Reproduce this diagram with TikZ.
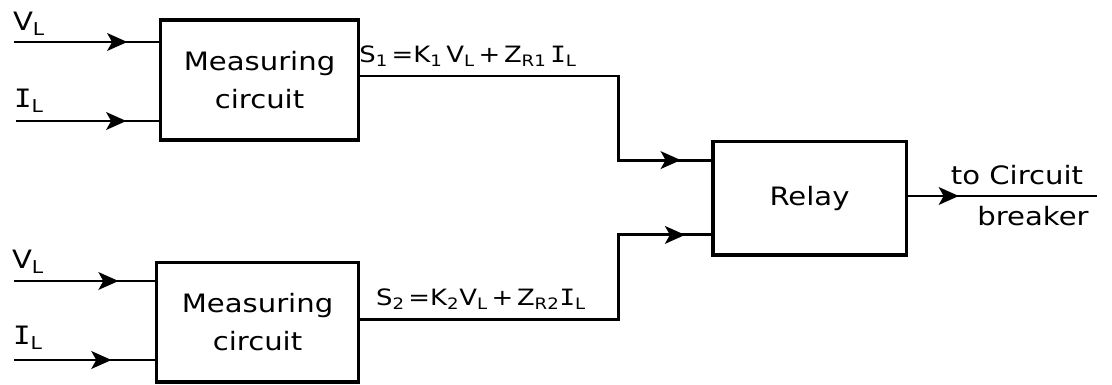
\documentclass[tikz,border=0pt]{standalone}
\usepackage{fontspec}
\setmainfont{DejaVu Sans}[FakeStretch=1.15]
\newfontfamily\serifletter{DejaVu Sans Mono}[FakeStretch=1.15]
\usetikzlibrary{arrows.meta,decorations.markings}
\newcommand{\Icur}{{\serifletter I}}

\begin{document}
\begin{tikzpicture}[x=0.025cm,y=-0.025cm,font=\fontsize{18}{27}\selectfont,
  blockbox/.style={draw=black,line width=2.3pt,align=center,inner sep=0pt},
  wire/.style={line width=2.1pt,draw=black},
  arrowat/.style={postaction={decorate},decoration={markings,
    mark=at position #1 with {\arrow{Stealth[length=5mm,width=4.4mm,inset=1.2mm]}}}}]
\useasboundingbox (0,0) rectangle (1112,385);
\node[blockbox,minimum width=4.93cm,minimum height=3cm] (m1) at (259.5,80) {Measuring\\circuit};
\node[blockbox,minimum width=5.03cm,minimum height=2.98cm] (m2) at (257.5,322.5) {Measuring\\circuit};
\node[blockbox,minimum width=4.83cm,minimum height=2.83cm] (relay) at (809.5,198.5) {Relay};
\coordinate (v1in) at (14,42); \coordinate (i1in) at (16,121);
\coordinate (v2in) at (14,281); \coordinate (i2in) at (14,360);
\coordinate (out) at (1097,196);
% inputs
\node (v1lab) at (29,24) {V\textsubscript{L}};
\node (i1lab) at (29,101) {\Icur\textsubscript{L}};
\node (v2lab) at (28,262) {V\textsubscript{L}};
\node (i2lab) at (28,338) {\Icur\textsubscript{L}};
\draw[wire,arrowat=0.78] (v1in) -- (m1.west |- v1in);
\draw[wire,arrowat=0.77] (i1in) -- (m1.west |- i1in);
\draw[wire,arrowat=0.74] (v2in) -- (m2.west |- v2in);
\draw[wire,arrowat=0.69] (i2in) -- (m2.west |- i2in);
% signals to relay
\draw[wire,arrowat=0.93] ([yshift=1mm]m1.east) -- ++(259,0) |- ([yshift=9.6mm]relay.west);
\draw[wire,arrowat=0.94] ([yshift=0.8mm]m2.east) -- ++(259,0) |- ([yshift=-9.1mm]relay.west);
\node[font=\fontsize{16}{20}\selectfont] (s1lab) at (468,56) {S\textsubscript{1}\,=K\textsubscript{1}\,V\textsubscript{L}\,+\,Z\textsubscript{R1}\,\Icur\textsubscript{L}};
\node[font=\fontsize{16}{20}\selectfont] (s2lab) at (481,299) {S\textsubscript{2}\,=K\textsubscript{2}V\textsubscript{L}\,+\,Z\textsubscript{R2}\Icur\textsubscript{L}};
% output
\draw[wire,arrowat=0.27] (relay.east |- out) -- (out);
\node (tolab) at (1017,175) {to Circuit};
\node (brlab) at (1033,216) {breaker};
\end{tikzpicture}
\end{document}
